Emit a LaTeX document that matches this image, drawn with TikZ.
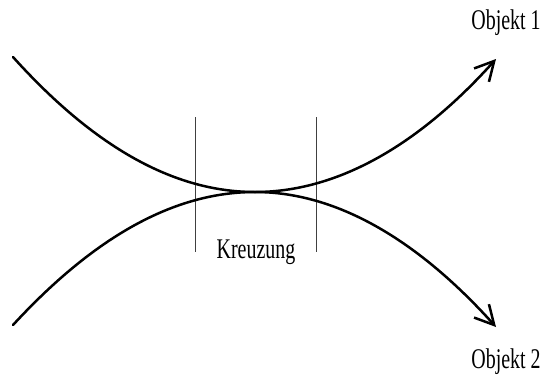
\documentclass[tikz,border=0pt]{standalone}
\usepackage{fontspec}
\setmainfont{Liberation Serif}[FakeStretch=0.7]
\usetikzlibrary{arrows.meta}
\begin{document}
\begin{tikzpicture}[x=1pt,y=-1pt,
  curve/.style={line width=2.5pt,line cap=round},
  objarrow/.style={curve,-{Straight Barb[length=19pt,width=20pt,line width=2.5pt]}},
  guide/.style={line width=0.8pt,black!75},
  lbl/.style={font=\fontsize{28.5}{30}\selectfont,inner sep=0pt,anchor=base}]
\useasboundingbox (0,0) rectangle (544,378);
% coordinates
\coordinate (s1) at (13,57);
\coordinate (s2) at (13,325);
\coordinate (m) at (255,192);
\coordinate (e1) at (496,59);
\coordinate (e2) at (496,327);
\coordinate (g1t) at (195,117);
\coordinate (g1b) at (195,252);
\coordinate (g2t) at (316,117);
\coordinate (g2b) at (316,252);
% guide lines
\draw[guide] (g1t) -- (g1b);
\draw[guide] (g2t) -- (g2b);
% curves
\draw[objarrow] (s1) .. controls (94,147) and (174,192) .. (m)
  .. controls (335,192) and (416,148) .. (e1);
\draw[objarrow] (s2) .. controls (94,237) and (174,192) .. (m)
  .. controls (335,192) and (416,238) .. (e2);
% labels
\node[lbl] (o1) at (506,29) {Objekt 1};
\node[lbl] (o2) at (506,368) {Objekt 2};
\node[lbl] (kr) at (256,258) {Kreuzung};
\end{tikzpicture}
\end{document}
